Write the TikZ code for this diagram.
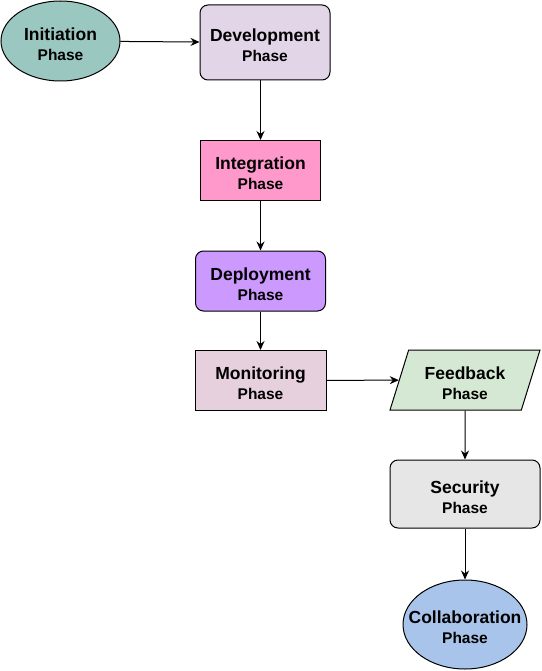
\documentclass[tikz,border=0pt]{standalone}
\usepackage{fontspec}
\setmainfont{Liberation Sans}
\usetikzlibrary{arrows.meta,shapes.geometric}

\definecolor{initfill}{HTML}{9AC7BF}
\definecolor{devfill}{HTML}{E1D5E7}
\definecolor{integfill}{HTML}{FF99CC}
\definecolor{deployfill}{HTML}{CC99FF}
\definecolor{monitorfill}{HTML}{E6D0DE}
\definecolor{feedfill}{HTML}{D5E8D4}
\definecolor{securefill}{HTML}{E6E6E6}
\definecolor{collabfill}{HTML}{A9C4EB}

\newcommand{\phasetext}[1]{\rule{0pt}{19pt}{\fontsize{17.5}{20}\selectfont #1}\\{\fontsize{15.5}{20}\selectfont Phase}}

\begin{document}
\begin{tikzpicture}[x=1pt, y=-1pt,
		stage/.style={draw=black, line width=1pt, font=\bfseries\fontsize{15.5}{20}\selectfont, align=center, inner sep=2pt},
		box/.style={stage, rectangle, minimum width=130pt, minimum height=60pt},
		roundbox/.style={box, rounded corners=8pt},
		oval/.style={stage, ellipse, inner xsep=-20pt, inner ysep=-6pt},
		link/.style={-{Stealth[length=9pt, width=8pt, inset=3pt]}, line width=1pt}]
		\useasboundingbox (0,0) rectangle (541,671);
	
		% phases
		\node[oval, fill=initfill, minimum width=119pt, minimum height=80pt] (init) at (60.5,41) {\phasetext{Initiation}};
		\node[roundbox, fill=devfill, minimum height=75pt] (dev) at (265,42.5) {\phasetext{Development}};
		\node[box, fill=integfill, minimum width=120pt] (integ) at (260.5,170.5) {\phasetext{Integration}};
		\node[roundbox, fill=deployfill] (deploy) at (260.5,281) {\phasetext{Deployment}};
		\node[box, fill=monitorfill, minimum width=131pt] (monitor) at (260.5,380.5) {\phasetext{Monitoring}};
		\node[stage, trapezium, trapezium left angle=72, trapezium right angle=108, trapezium stretches=true,
			minimum width=150pt, minimum height=60pt, fill=feedfill] (feedback) at (465,380) {\phasetext{Feedback}};
		\node[roundbox, fill=securefill, minimum width=150pt, minimum height=68pt] (security) at (465,494) {\phasetext{Security}};
		\node[oval, fill=collabfill, minimum width=124pt, minimum height=89pt] (collab) at (465,624.5) {\phasetext{Collaboration}};
	
		% connectors
		\draw[link] (init) -- (dev);
		\draw[link] (dev.south -| integ) -- (integ);
		\draw[link] (integ) -- (deploy);
		\draw[link] (deploy) -- (monitor);
		\draw[link] (monitor) -- (feedback);
		\draw[link] (feedback) -- (security);
		\draw[link] (security) -- (collab);
	\end{tikzpicture}
\end{document}
